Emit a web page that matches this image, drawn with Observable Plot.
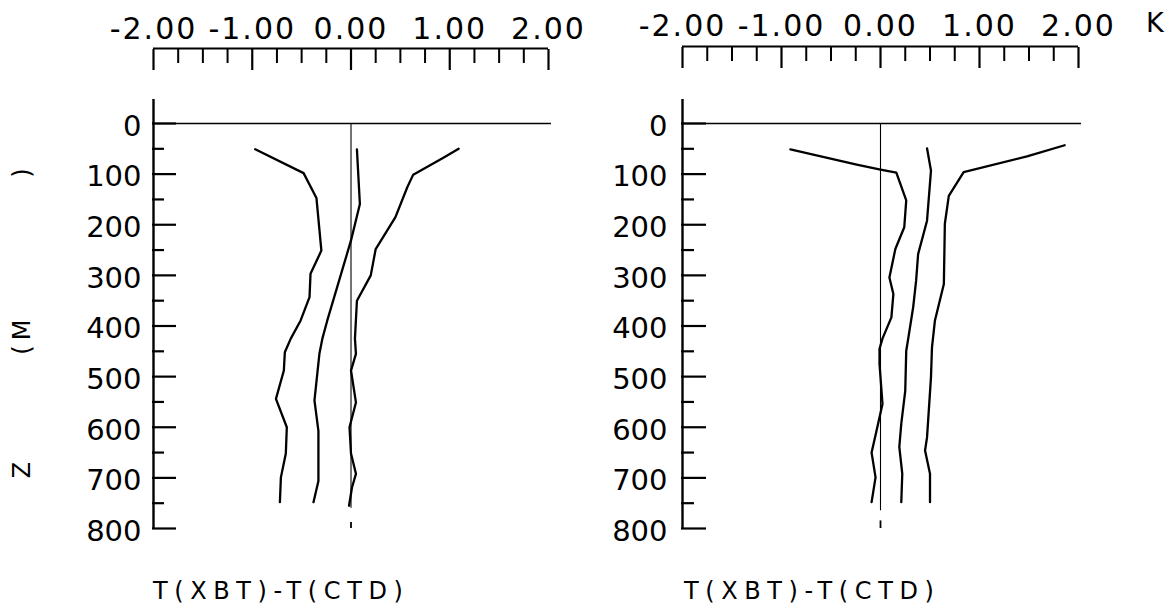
<!DOCTYPE html>
<html>
<head>
<meta charset="utf-8">
<script src="https://cdn.jsdelivr.net/npm/d3@7"></script>
<script src="https://cdn.jsdelivr.net/npm/@observablehq/plot@0.6"></script>
<style>
  html, body { margin: 0; padding: 0; background: #fff; }
  #wrap { position: relative; width: 1171px; height: 608px; overflow: hidden; background: #fff;
          font-family: "DejaVu Sans", sans-serif; color: #000; }
  .panel { position: absolute; top: 0; }
  .panel svg { overflow: visible; }
  .xtitle { position: absolute; top: 579px; font-size: 24px; line-height: 24px; letter-spacing: 6.6px; white-space: pre; font-weight: 400; }
  .unit { position: absolute; left: 1146px; top: 9px; font-size: 27px; line-height: 27px; font-weight: 400; }
  .ych { position: absolute; font-size: 24px; line-height: 24px; font-weight: 400;
         transform: translate(-50%, -50%) rotate(-90deg); }
</style>
</head>
<body>
<div id="wrap"></div>
<script>
// ---------- data ----------
const depthTicks = [0, 100, 200, 300, 400, 500, 600, 700, 800];
const depthMinorTicks = [50, 150, 250, 350, 450, 550, 650, 750];
const xMajorTicks = [-2, -1, 0, 1, 2];
const xMinorTicks = [-1.75, -1.5, -1.25, -0.75, -0.5, -0.25, 0.25, 0.5, 0.75, 1.25, 1.5, 1.75];
const xLabels = ["-2.00", "-1.00", "0.00", "1.00", "2.00"];
const unitLabel = "K";
const xTitle = "T(XBT)-T(CTD)";
const yTitleChars = ["Z", "(", "M", ")"];

// left panel
const leftLowDepth  = [51, 98, 147, 251, 297, 343, 389, 425, 452, 488, 544, 600, 652, 699, 748];
const leftLowValue  = [-0.97, -0.48, -0.35, -0.30, -0.41, -0.42, -0.51, -0.61, -0.67, -0.68, -0.76, -0.65, -0.66, -0.71, -0.72];
const leftMidDepth  = [51, 159, 231, 389, 425, 455, 547, 607, 706, 748];
const leftMidValue  = [0.06, 0.09, 0.0, -0.24, -0.29, -0.32, -0.37, -0.33, -0.33, -0.38];
const leftHighDepth = [50, 67, 101, 126, 185, 248, 300, 350, 425, 455, 488, 551, 600, 652, 692, 719, 755];
const leftHighValue = [1.09, 0.94, 0.63, 0.57, 0.45, 0.25, 0.20, 0.06, 0.04, 0.05, 0.0, 0.05, -0.015, 0.0, 0.05, 0.01, -0.02];

// right panel
const rightLowDepth  = [51, 81, 91, 97, 152, 205, 248, 304, 337, 383, 425, 445, 475, 554, 607, 650, 699, 748];
const rightLowValue  = [-0.91, -0.24, 0.0, 0.16, 0.26, 0.24, 0.15, 0.09, 0.13, 0.11, 0.02, -0.01, -0.01, 0.02, -0.04, -0.09, -0.05, -0.09];
const rightMidDepth  = [49, 93, 192, 258, 310, 363, 425, 449, 528, 593, 639, 692, 748];
const rightMidValue  = [0.47, 0.51, 0.47, 0.38, 0.36, 0.33, 0.28, 0.26, 0.25, 0.21, 0.19, 0.22, 0.21];
const rightHighDepth = [43, 65, 96, 143, 198, 317, 389, 442, 501, 620, 646, 692, 748];
const rightHighValue = [1.86, 1.48, 0.84, 0.69, 0.65, 0.64, 0.55, 0.52, 0.51, 0.47, 0.45, 0.50, 0.50];

// zero reference line extents (depth)
const leftZeroLine = [0, 760], leftZeroDot = [788, 800];
const rightZeroLine = [0, 765], rightZeroDot = [785, 800];

// ---------- helpers ----------
function rows(depths, values, name) {
  return depths.map((d, i) => ({depth: d, value: values[i], series: name}));
}

const Y_TOP = 123, Y_BOT = 528, AXIS_TOP = 99;
const kY = (Y_BOT - Y_TOP) / 800;

function panel(cfg) {
  const bracketDepth = (cfg.bracketY - Y_TOP) / kY;
  const axisTopDepth = (AXIS_TOP - Y_TOP) / kY;
  const svg = Plot.plot({
    width: cfg.width,
    height: 545,
    marginLeft: cfg.x0,
    marginRight: cfg.width - cfg.x1,
    marginTop: cfg.bracketY,
    marginBottom: 545 - Y_BOT,
    x: {domain: [-2, 2], range: [cfg.x0 + 1, cfg.x1]},
    y: {domain: [0, 800], range: [Y_TOP, Y_BOT]},
    style: {fontFamily: '"DejaVu Sans", sans-serif', fontSize: "29px", fontWeight: 400, color: "#000", background: "transparent", overflow: "visible"},
    marks: [
      // horizontal line at depth 0
      Plot.ruleY([0], {x1: -2, x2: 2.03, stroke: "#000", strokeWidth: 1.6}),
      // left vertical axis line
      Plot.ruleX([-2], {y1: axisTopDepth, y2: 800, stroke: "#000", strokeWidth: 2.4}),
      // top bracket line
      Plot.ruleY([bracketDepth], {x1: -2, x2: 2, stroke: "#000", strokeWidth: 2.2}),
      Plot.axisX({ticks: xMajorTicks, anchor: "top", label: null, tickSize: -21, tickFormat: () => "", strokeWidth: 2.2}),
      Plot.axisX({ticks: xMinorTicks, anchor: "top", label: null, tickSize: -14, tickFormat: () => "", strokeWidth: 2}),
      Plot.axisX({ticks: xMajorTicks, anchor: "top", label: null, tickSize: 0, tickPadding: cfg.labelPad, fontSize: 30,
                  tickFormat: d => xLabels[xMajorTicks.indexOf(d)]}),
      Plot.axisY({ticks: depthTicks, label: null, tickSize: -cfg.majorLen, tickFormat: () => "", strokeWidth: 2.2}),
      Plot.axisY({ticks: depthMinorTicks, label: null, tickSize: -cfg.minorLen, tickFormat: () => "", strokeWidth: 2.2}),
      Plot.axisY({ticks: depthTicks, label: null, tickSize: 0, tickPadding: cfg.yPad, dy: 3, tickFormat: d => String(d)}),
      // zero reference line
      Plot.ruleX([0], {y1: cfg.zeroLine[0], y2: cfg.zeroLine[1], stroke: "#000", strokeWidth: 1.1}),
      Plot.ruleX([0], {y1: cfg.zeroDot[0], y2: cfg.zeroDot[1], stroke: "#000", strokeWidth: 1.8}),
      Plot.line(cfg.data, {x: "value", y: "depth", z: "series", stroke: "#000", strokeWidth: 2.3, strokeLinejoin: "round"})
    ]
  });
  svg.querySelectorAll('[aria-label="x-axis tick label"] text').forEach(t => {
    t.style.letterSpacing = "2px";
  });
  return svg;
}

const leftData = [
  ...rows(leftLowDepth, leftLowValue, "low"),
  ...rows(leftMidDepth, leftMidValue, "mid"),
  ...rows(leftHighDepth, leftHighValue, "high")
];
const rightData = [
  ...rows(rightLowDepth, rightLowValue, "low"),
  ...rows(rightMidDepth, rightMidValue, "mid"),
  ...rows(rightHighDepth, rightHighValue, "high")
];

const wrap = document.getElementById("wrap");

const leftDiv = document.createElement("div");
leftDiv.className = "panel"; leftDiv.style.left = "0px";
leftDiv.appendChild(panel({width: 560, x0: 152, x1: 548, bracketY: 48, labelPad: 10, yPad: 11,
  majorLen: 24, minorLen: 12, zeroLine: leftZeroLine, zeroDot: leftZeroDot, data: leftData}));
wrap.appendChild(leftDiv);

const rightDiv = document.createElement("div");
rightDiv.className = "panel"; rightDiv.style.left = "560px";
rightDiv.appendChild(panel({width: 611, x0: 121, x1: 518, bracketY: 46, labelPad: 11, yPad: 14,
  majorLen: 25, minorLen: 13, zeroLine: rightZeroLine, zeroDot: rightZeroDot, data: rightData}));
wrap.appendChild(rightDiv);

// titles
[[153], [684]].forEach(([x]) => {
  const t = document.createElement("div");
  t.className = "xtitle"; t.style.left = x + "px"; t.textContent = xTitle;
  wrap.appendChild(t);
});
const u = document.createElement("div");
u.className = "unit"; u.textContent = unitLabel; wrap.appendChild(u);

const yPos = [470, 350, 330, 173];
yTitleChars.forEach((c, i) => {
  const d = document.createElement("div");
  d.className = "ych"; d.style.left = "22px"; d.style.top = yPos[i] + "px"; d.textContent = c;
  wrap.appendChild(d);
});
</script>
</body>
</html>
